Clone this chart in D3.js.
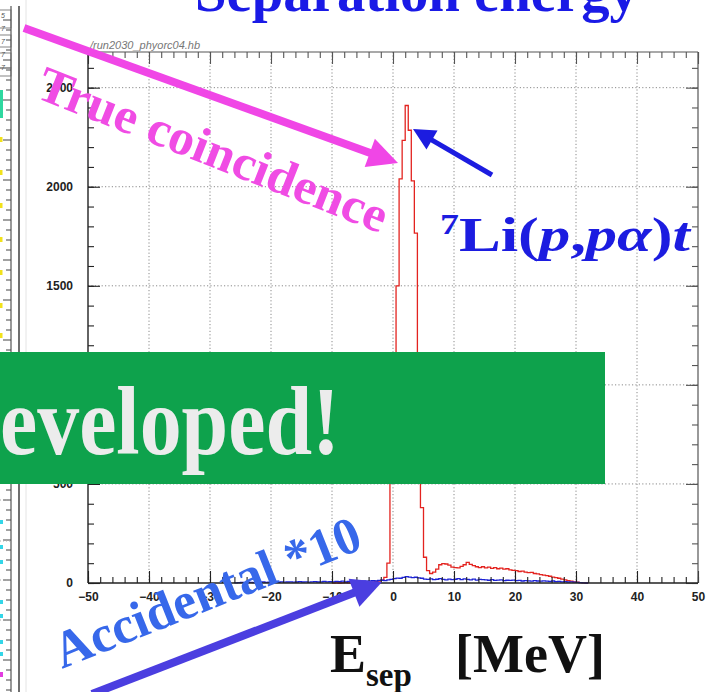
<!DOCTYPE html>
<html><head><meta charset="utf-8">
<script src="https://cdn.jsdelivr.net/npm/d3@7"></script>
<style>
html,body{margin:0;padding:0;background:#fff;overflow:hidden}
svg{display:block}
</style></head><body>
<svg id="c" width="714" height="692"></svg>
<script>
// Histogram binning (MeV)
const binWidth = 0.5;

// True coincidence spectrum, bins of 0.5 MeV starting at -10 MeV
const redStart = -10;
const redCounts = [
  0, 1, 0, 1, 2, 1, 2, 3, 2, 3,
  4, 3, 5, 6, 8, 10, 15, 28, 100, 540,
  900, 1500, 2040, 2234, 2410, 2285, 2030, 1766, 1000, 380,
  130, 62, 48, 55, 70, 92, 98, 96, 90, 80,
  78, 76, 84, 92, 104, 94, 88, 82, 78, 82,
  76, 80, 74, 78, 72, 75, 70, 72, 66, 64,
  62, 58, 60, 55, 52, 54, 48, 46, 42, 40,
  37, 34, 30, 27, 24, 20, 16, 12, 9, 6,
  4, 2, 1, 0
];

// Accidental coincidence spectrum (scaled x10), bins of 0.5 MeV starting at -26 MeV
const blueStart = -26;
const blueCounts = [
  1, 2, 3, 2, 4, 3, 2, 4, 3, 5, 3, 4,
  4, 5, 3, 6, 4, 5, 6, 4, 5, 7, 5, 6, 4, 6, 7, 5, 6, 8, 6, 7,
  6, 8, 7, 9, 6, 8, 10, 7, 9, 8, 11, 9, 10, 12, 10, 13,
  14, 12, 16, 18,
  22, 25, 24, 28, 32, 30, 27, 29, 26, 24,
  20, 18, 21, 17, 19, 22, 18, 16, 20, 17,
  19, 22, 17, 21, 18, 16, 20, 15, 18, 17,
  16, 14, 17, 13, 15, 16, 12, 14, 13, 15,
  12, 13, 10, 12, 11, 9, 12, 10, 9, 11,
  9, 8, 10, 7, 8, 6,
  7, 5, 6, 4, 3, 2, 1, 0
];

// Axis ticks
const xMajorTicks = [-50, -40, -30, -20, -10, 0, 10, 20, 30, 40, 50];
const xMinorTicks = d3.range(-50, 50.1, 2);
const yMajorTicks = [0, 500, 1000, 1500, 2000, 2500];
const yMinorTicks = d3.range(0, 2601, 100);
const yMax = 2680;

const svg = d3.select("#c");
const W = 714, H = 692;
const plot = {left: 88, right: 698, top: 52, bottom: 583};

const x = d3.scaleLinear().domain([-50, 50]).range([plot.left, plot.right]);
const y = d3.scaleLinear().domain([0, yMax]).range([plot.bottom, plot.top]);

const serif = "'Liberation Serif','Times New Roman',serif";
const sans = "'Liberation Sans',Arial,sans-serif";

// ---------- neighbouring panel on the far left ----------
const side = svg.append("g");
side.append("line").attr("x1", 11).attr("x2", 11).attr("y1", 6).attr("y2", H)
  .attr("stroke", "#555").attr("stroke-width", 1.2);
side.append("line").attr("x1", 19).attr("x2", 19).attr("y1", 6).attr("y2", H)
  .attr("stroke", "#333").attr("stroke-width", 1.4);
side.append("line").attr("x1", 26).attr("x2", 26).attr("y1", 0).attr("y2", H)
  .attr("stroke", "#e4e4e4").attr("stroke-width", 1);
// small legend boxes
[[10, 28], [35, 47], [53, 68], [68, 76]].forEach(([a, b]) => {
  side.append("rect").attr("x", -2).attr("y", a).attr("width", 13).attr("height", b - a)
    .attr("fill", "none").attr("stroke", "#666").attr("stroke-width", 0.8);
});
["5", "7", "7", "7", "7"].forEach((t, i) => {
  side.append("text").attr("x", 1).attr("y", 18 + i * 13).attr("font-size", 7)
    .attr("font-family", sans).attr("fill", "#555").attr("font-style", "italic").text(t);
});
d3.range(20, H, 10).forEach((ty, i) => {
  const major = i % 4 === 0;
  side.append("line").attr("x1", major ? 3 : 6).attr("x2", 11).attr("y1", ty).attr("y2", ty)
    .attr("stroke", "#444").attr("stroke-width", 1);
});
[500, 541, 580, 620].forEach(ty => {
  side.append("line").attr("x1", 0).attr("x2", 11).attr("y1", ty).attr("y2", ty)
    .attr("stroke", "#aaa").attr("stroke-dasharray", "1,2");
});
side.append("rect").attr("x", 0).attr("y", 90).attr("width", 3).attr("height", 28).attr("fill", "#2fd8a0");
[137, 170, 203, 237, 270, 303, 333].forEach(ty => {
  side.append("rect").attr("x", 0).attr("y", ty).attr("width", 2.5).attr("height", 5).attr("fill", "#f2e21a");
});
[520, 545, 560, 600, 614, 640, 652].forEach(ty => {
  side.append("rect").attr("x", 0).attr("y", ty).attr("width", 3).attr("height", 4).attr("fill", "#33d6e8");
});
side.append("rect").attr("x", 0).attr("y", 672).attr("width", 3).attr("height", 5).attr("fill", "#e23ce0");

// ---------- histogram frame, grid and axes ----------
const g = svg.append("g");

// dotted grid
g.append("g").selectAll("line").data(xMajorTicks.filter(v => v > -50 && v < 50)).join("line")
  .attr("x1", d => x(d)).attr("x2", d => x(d)).attr("y1", plot.top).attr("y2", plot.bottom)
  .attr("stroke", "#8a8a8a").attr("stroke-width", 1).attr("stroke-dasharray", "1.2,2.2");
g.append("g").selectAll("line").data(yMajorTicks.filter(v => v > 0)).join("line")
  .attr("x1", plot.left).attr("x2", plot.right).attr("y1", d => y(d)).attr("y2", d => y(d))
  .attr("stroke", "#8a8a8a").attr("stroke-width", 1).attr("stroke-dasharray", "1.2,2.2");

// histogram outlines
function histPoints(start, counts) {
  const pts = [[start, 0]];
  counts.forEach((c, i) => pts.push([start + i * binWidth, c]));
  const end = start + counts.length * binWidth;
  pts.push([end, counts[counts.length - 1]]);
  pts.push([end, 0]);
  return pts;
}
const stepLine = d3.line().x(d => x(d[0])).y(d => y(d[1])).curve(d3.curveStepAfter);

g.append("path").attr("d", stepLine(histPoints(redStart, redCounts)))
  .attr("fill", "none").attr("stroke", "#e3231f").attr("stroke-width", 1.3);
g.append("path").attr("d", stepLine(histPoints(blueStart, blueCounts)))
  .attr("fill", "none").attr("stroke", "#1c22d4").attr("stroke-width", 1.3);

// axes: ticks drawn inside the frame
function styleAxis(sel, color) {
  sel.select(".domain").remove();
  sel.selectAll(".tick line").attr("stroke", color).attr("stroke-width", 1.1);
  sel.selectAll(".tick text").attr("font-family", sans).attr("font-weight", "bold")
    .attr("font-size", 12).attr("fill", "#222");
}
// bottom
g.append("g").attr("transform", `translate(0,${plot.bottom})`)
  .call(d3.axisBottom(x).tickValues(xMinorTicks).tickSize(-6).tickFormat(""))
  .call(s => styleAxis(s, "#222"));
g.append("g").attr("transform", `translate(0,${plot.bottom})`)
  .call(d3.axisBottom(x).tickValues(xMajorTicks).tickSize(-12).tickPadding(9).tickFormat(d3.format("d")))
  .call(s => styleAxis(s, "#222"));
// top
g.append("g").attr("transform", `translate(0,${plot.top})`)
  .call(d3.axisTop(x).tickValues(xMinorTicks).tickSize(-6).tickFormat(""))
  .call(s => styleAxis(s, "#555"));
g.append("g").attr("transform", `translate(0,${plot.top})`)
  .call(d3.axisTop(x).tickValues(xMajorTicks).tickSize(-12).tickFormat(""))
  .call(s => styleAxis(s, "#555"));
// left
g.append("g").attr("transform", `translate(${plot.left},0)`)
  .call(d3.axisLeft(y).tickValues(yMinorTicks).tickSize(-6).tickFormat(""))
  .call(s => styleAxis(s, "#222"));
g.append("g").attr("transform", `translate(${plot.left},0)`)
  .call(d3.axisLeft(y).tickValues(yMajorTicks).tickSize(-12).tickPadding(15).tickFormat(d3.format("d")))
  .call(s => styleAxis(s, "#222"));
// right
g.append("g").attr("transform", `translate(${plot.right},0)`)
  .call(d3.axisRight(y).tickValues(yMinorTicks).tickSize(-6).tickFormat(""))
  .call(s => styleAxis(s, "#555"));
g.append("g").attr("transform", `translate(${plot.right},0)`)
  .call(d3.axisRight(y).tickValues(yMajorTicks).tickSize(-12).tickFormat(""))
  .call(s => styleAxis(s, "#555"));

// frame
g.append("line").attr("x1", plot.left).attr("x2", plot.right).attr("y1", plot.top).attr("y2", plot.top)
  .attr("stroke", "#555").attr("stroke-width", 1.2);
g.append("line").attr("x1", plot.right).attr("x2", plot.right).attr("y1", plot.top).attr("y2", plot.bottom)
  .attr("stroke", "#555").attr("stroke-width", 1.2);
g.append("line").attr("x1", plot.left).attr("x2", plot.left).attr("y1", plot.top).attr("y2", plot.bottom)
  .attr("stroke", "#222").attr("stroke-width", 1.4);
g.append("line").attr("x1", plot.left).attr("x2", plot.right).attr("y1", plot.bottom).attr("y2", plot.bottom)
  .attr("stroke", "#222").attr("stroke-width", 1.4);

// histogram file name
g.append("text").attr("x", 90).attr("y", 49).attr("font-family", sans).attr("font-style", "italic")
  .attr("font-size", 11).attr("fill", "#777").text("/run2030_phyorc04.hb");

// ---------- slide annotations ----------
function arrow(x1, y1, x2, y2, width, headLen, headHalf, color) {
  const a = Math.atan2(y2 - y1, x2 - x1);
  const ux = Math.cos(a), uy = Math.sin(a), nx = -uy, ny = ux;
  const bx = x2 - ux * headLen, by = y2 - uy * headLen;
  svg.append("line").attr("x1", x1).attr("y1", y1).attr("x2", bx + ux * 2).attr("y2", by + uy * 2)
    .attr("stroke", color).attr("stroke-width", width);
  svg.append("path")
    .attr("d", `M${x2},${y2}L${bx + nx * headHalf},${by + ny * headHalf}L${bx - nx * headHalf},${by - ny * headHalf}Z`)
    .attr("fill", color);
}

// title (clipped at the top of the view)
svg.append("text").attr("x", 195).attr("y", 11).attr("font-family", serif).attr("font-weight", "bold")
  .attr("font-size", 57).attr("fill", "#1a1ae6").attr("textLength", 443).attr("lengthAdjust", "spacingAndGlyphs")
  .text("Separation energy");

// true coincidence
arrow(24, 28, 398, 163, 8, 30, 15, "#f046e6");
svg.append("text").attr("transform", "translate(34,97) rotate(21.5)")
  .attr("font-family", serif).attr("font-weight", "bold").attr("font-size", 50).attr("fill", "#f04ce4")
  .attr("textLength", 372).attr("lengthAdjust", "spacingAndGlyphs")
  .text("True coincidence");

// reaction label
arrow(492, 175, 413, 129, 5, 22, 11, "#1c1ce0");
const rl = svg.append("text").attr("x", 440).attr("y", 251).attr("font-family", serif)
  .attr("font-weight", "bold").attr("font-size", 48).attr("fill", "#1c1ce0")
  .attr("textLength", 250).attr("lengthAdjust", "spacingAndGlyphs");
rl.append("tspan").attr("font-size", 29).attr("dy", -17).text("7");
rl.append("tspan").attr("dy", 17).text("Li(");
rl.append("tspan").attr("font-style", "italic").text("p");
rl.append("tspan").text(",");
rl.append("tspan").attr("font-style", "italic").text("pα");
rl.append("tspan").text(")");
rl.append("tspan").attr("font-style", "italic").text("t");

// banner
svg.append("rect").attr("x", 0).attr("y", 352).attr("width", 605).attr("height", 132).attr("fill", "#0ea24c");
svg.append("text").attr("x", 0).attr("y", 454).attr("font-family", serif).attr("font-weight", "bold")
  .attr("font-size", 98).attr("fill", "#ececec").attr("textLength", 340).attr("lengthAdjust", "spacingAndGlyphs")
  .text("eveloped!");

// accidental
arrow(92, 694, 382, 582, 8, 30, 15, "#4b3ee0");
svg.append("text").attr("transform", "translate(62,669) rotate(-21.8)")
  .attr("font-family", serif).attr("font-weight", "bold").attr("font-size", 52).attr("fill", "#3768ea")
  .attr("textLength", 326).attr("lengthAdjust", "spacingAndGlyphs")
  .text("Accidental *10");

// x-axis title
const xt = svg.append("text").attr("x", 330).attr("y", 672).attr("font-family", serif)
  .attr("font-weight", "bold").attr("font-size", 54).attr("fill", "#111");
xt.append("tspan").text("E");
xt.append("tspan").attr("font-size", 33).attr("dy", 14).text("sep");
xt.append("tspan").attr("x", 455).attr("dy", -14).text("[MeV]");
</script>
</body></html>
